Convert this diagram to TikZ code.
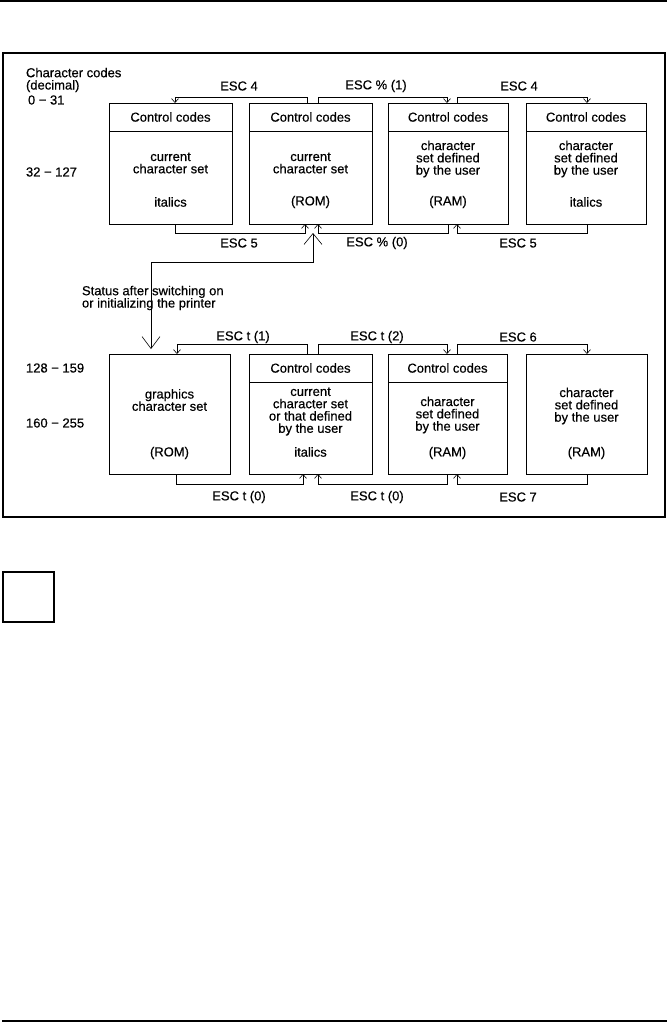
\documentclass[tikz,border=0pt]{standalone}
\usepackage{fontspec}
\setmainfont{Liberation Sans}
\newfontfamily\hvfont[FakeBold=0.45]{Liberation Sans}
\usetikzlibrary{arrows.meta,calc}
\begin{document}
\begin{tikzpicture}[x=1pt,y=-1pt,
  every node/.style={font=\hvfont\fontsize{13}{12.3}\selectfont, inner sep=0pt, outer sep=0pt},
  cbox/.style={draw, line width=0.7pt},
  txt/.style={align=center},
  conn/.style={draw, line width=0.6pt, -{Straight Barb[length=4pt,width=7pt]}},
  bigconn/.style={draw, line width=0.6pt, {Straight Barb[length=11pt,width=18pt]}-{Straight Barb[length=12pt,width=18pt]}}]
\useasboundingbox (0,0) rectangle (667,1022);
% page rules and frame
\draw[line width=1.2pt] (0,1) -- (667,1);
\draw[line width=1.2pt] (3,53) rectangle (665,517);
\draw[line width=2pt] (2,1021) -- (667,1021);
\draw[line width=2.2pt] (3.3,572) rectangle (54,622);

% left labels
\node[anchor=west, align=left] (cc) at (26,80) {Character codes\\(decimal)};
\node[anchor=west] (r1) at (28,100) {0 − 31};
\node[anchor=west] (r2) at (26,172) {32 − 127};
\node[anchor=west] (r3) at (26,368) {128 − 159};
\node[anchor=west] (r4) at (26,423) {160 − 255};

% upper boxes
\node[cbox, minimum width=123pt, minimum height=121pt] (u1) at (170.5,163.5) {};
\node[cbox, minimum width=123pt, minimum height=121pt] (u2) at (310.5,163.5) {};
\node[cbox, minimum width=120pt, minimum height=121pt] (u3) at (448,163.5) {};
\node[cbox, minimum width=120pt, minimum height=121pt] (u4) at (586,163.5) {};
\node[cbox, minimum width=123pt, minimum height=28pt, anchor=north] (u1h) at (u1.north) {Control codes};
\node[cbox, minimum width=123pt, minimum height=28pt, anchor=north] (u2h) at (u2.north) {Control codes};
\node[cbox, minimum width=120pt, minimum height=28pt, anchor=north] (u3h) at (u3.north) {Control codes};
\node[cbox, minimum width=120pt, minimum height=28pt, anchor=north] (u4h) at (u4.north) {Control codes};
\node[txt] (u1t) at (170.5,163) {current\\character set};
\node[txt] (u1b) at (170.5,202) {italics};
\node[txt] (u2t) at (310.5,163) {current\\character set};
\node[txt] (u2b) at (310.5,202) {(ROM)};
\node[txt] (u3t) at (448,159) {character\\set defined\\by the user};
\node[txt] (u3b) at (448,202) {(RAM)};
\node[txt] (u4t) at (586,159) {character\\set defined\\by the user};
\node[txt] (u4b) at (586,202) {italics};

% upper connectors
\draw[conn] ([xshift=-3.5pt]u2.north) -- ++(0,-6) -| ([xshift=4.5pt]u1.north);
\draw[conn] ([xshift=7.5pt]u2.north) -- ++(0,-6) -| ([xshift=-1pt]u3.north);
\draw[conn] ([xshift=9pt]u3.north) -- ++(0,-6) -| ([xshift=1pt]u4.north);
\draw[conn] ([xshift=4.5pt]u1.south) -- ++(0,9) -| ([xshift=-5.5pt]u2.south);
\draw[conn] (u3.south) -- ++(0,9) -| ([xshift=7.5pt]u2.south);
\draw[conn] ([xshift=1pt]u4.south) -- ++(0,9) -| ([xshift=9pt]u3.south);
\node (e1) at (239,86) {ESC 4};
\node (e2) at (376,86) {ESC \% (1)};
\node (e3) at (519,86) {ESC 4};
\node (e4) at (239,243) {ESC 5};
\node (e5) at (377,243) {ESC \% (0)};
\node (e6) at (518,243) {ESC 5};

% lower boxes
\node[cbox, minimum width=121pt, minimum height=120pt] (l1) at (169.5,414) {};
\node[cbox, minimum width=123pt, minimum height=120pt] (l2) at (310.5,414) {};
\node[cbox, minimum width=119pt, minimum height=120pt] (l3) at (447.5,414) {};
\node[cbox, minimum width=121pt, minimum height=120pt] (l4) at (586.5,414) {};
\node[cbox, minimum width=123pt, minimum height=28pt, anchor=north] (l2h) at (l2.north) {Control codes};
\node[cbox, minimum width=119pt, minimum height=28pt, anchor=north] (l3h) at (l3.north) {Control codes};
\node[txt] (l1t) at (169.5,400) {graphics\\character set};
\node[txt] (l1b) at (169.5,453) {(ROM)};
\node[txt] (l2t) at (310.5,411.5) {current\\character set\\or that defined\\by the user};
\node[txt] (l2b) at (310.5,452) {italics};
\node[txt] (l3t) at (447.5,415) {character\\set defined\\by the user};
\node[txt] (l3b) at (447.5,453) {(RAM)};
\node[txt] (l4t) at (586.5,406) {character\\set defined\\by the user};
\node[txt] (l4b) at (586.5,453) {(RAM)};

% lower connectors
\draw[conn] ([xshift=-3.5pt]l2.north) -- ++(0,-10) -| ([xshift=7.5pt]l1.north);
\draw[conn] ([xshift=7.5pt]l2.north) -- ++(0,-10) -| ([xshift=-0.5pt]l3.north);
\draw[conn] ([xshift=9.5pt]l3.north) -- ++(0,-10) -| ([xshift=0.5pt]l4.north);
\draw[conn] ([xshift=6.5pt]l1.south) -- ++(0,10) -| ([xshift=-7.5pt]l2.south);
\draw[conn] ([xshift=-0.5pt]l3.south) -- ++(0,10) -| ([xshift=7.5pt]l2.south);
\draw[conn] ([xshift=0.5pt]l4.south) -- ++(0,10) -| ([xshift=9.5pt]l3.south);
\node (f1) at (243,337) {ESC t (1)};
\node (f2) at (377,337) {ESC t (2)};
\node (f3) at (518,337) {ESC 6};
\node (f4) at (239,497) {ESC t (0)};
\node (f5) at (377,497) {ESC t (0)};
\node (f6) at (518,497) {ESC 7};

% status after switching on
\node[anchor=west, align=left] (st) at (82,298) {Status after switching on\\or initializing the printer};
\coordinate (sc) at (313,262);
\draw[bigconn] ([xshift=2.5pt,yshift=-9pt]u2.south) -- (sc) -| ([xshift=-18.5pt,yshift=5pt]l1.north);
\end{tikzpicture}
\end{document}
